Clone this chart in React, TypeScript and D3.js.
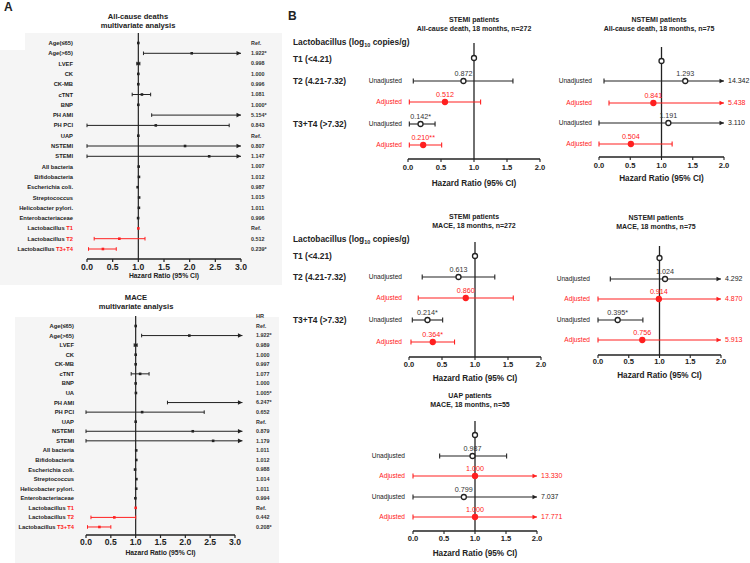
import * as d3 from "d3";

const FONT = "'Liberation Sans', Arial, Helvetica, sans-serif";
const RED = "#ff2020";
const INK = "#222";

// ---------- Panel A: multivariate analysis ----------
const deathLabels = [
  "Age(≤65)", "Age(>65)", "LVEF", "CK", "CK-MB", "cTNT", "BNP", "PH AMI", "PH PCI", "UAP",
  "NSTEMI", "STEMI", "All bacteria", "Bifidobacteria", "Escherichia coli.", "Streptococcus",
  "Helicobacter pylori.", "Enterobacteriaceae", "Lactobacillus T1", "Lactobacillus T2", "Lactobacillus T3+T4",
];
const deathHR = [
  "Ref.", "1.922*", "0.998", "1.000", "0.996", "1.081", "1.000*", "5.154*", "0.843", "Ref.",
  "0.807", "1.147", "1.007", "1.012", "0.987", "1.015", "1.011", "0.996", "Ref.", "0.512", "0.239*",
];
// plotted estimate / CI (values past 3.0 are drawn as arrows)
const deathPoint = [1, 2.04, 1, 1, 1, 1.07, 1, null, 1.34, 1, 1.91, 2.38, 1.007, 1.012, 0.987, 1.015, 1.011, 0.996, 1, 0.63, 0.31];
const deathLow = [null, 1.1, 0.97, null, null, 0.88, null, 1.26, 0.0, null, 0.0, 0.0, null, null, null, null, null, null, null, 0.14, 0.03];
const deathHigh = [null, 3.5, 1.03, null, null, 1.24, null, 3.5, 2.77, null, 3.5, 3.5, null, null, null, null, null, null, null, 1.13, 0.57];

const maceLabels = [
  "Age(≤65)", "Age(>65)", "LVEF", "CK", "CK-MB", "cTNT", "BNP", "UA", "PH AMI", "PH PCI", "UAP",
  "NSTEMI", "STEMI", "All bacteria", "Bifidobacteria", "Escherichia coli.", "Streptococcus",
  "Helicobacter pylori.", "Enterobacteriaceae", "Lactobacillus T1", "Lactobacillus T2", "Lactobacillus T3+T4",
];
const maceHR = [
  "Ref.", "1.922*", "0.989", "1.000", "0.997", "1.077", "1.000", "1.005*", "6.247*", "0.652", "Ref.",
  "0.879", "1.179", "1.011", "1.012", "0.988", "1.014", "1.011", "0.994", "Ref.", "0.442", "0.208*",
];
const macePoint = [1, 2.08, 1, 1, 1, 1.09, 1, 1.005, null, 1.13, 1, 2.15, 2.56, 1.011, 1.012, 0.988, 1.014, 1.011, 0.994, 1, 0.57, 0.27];
const maceLow = [null, 1.12, 0.97, null, null, 0.91, null, null, 1.64, 0.0, null, 0.0, 0.0, null, null, null, null, null, null, null, 0.1, 0.03];
const maceHigh = [null, 3.5, 1.03, null, null, 1.27, null, null, 3.5, 2.38, null, 3.5, 3.5, null, null, null, null, null, null, null, 1.0, 0.5];

const aTicks = [0, 0.5, 1, 1.5, 2, 2.5, 3];

// ---------- Panel B: Lactobacillus tertiles ----------
const bRowNames = ["T1", "Unadjusted", "Adjusted", "Unadjusted", "Adjusted"];
const bTicks = [0, 0.5, 1, 1.5, 2];

const stemiDeathPoint = [1, 0.84, 0.56, 0.19, 0.23];
const stemiDeathLow = [null, 0.08, 0.02, 0.02, 0.02];
const stemiDeathHigh = [null, 1.59, 1.1, 0.41, 0.51];
const stemiDeathText = ["", "0.872", "0.512", "0.142*", "0.210**"];

const nstemiDeathPoint = [1, 1.38, 0.87, 1.11, 0.51];
const nstemiDeathLow = [null, 0.08, 0.16, 0.0, 0.0];
const nstemiDeathHigh = [null, 14.342, 5.438, 3.11, 1.17];
const nstemiDeathText = ["", "1.293", "0.841", "1.191", "0.504"];

const stemiMacePoint = [1, 0.75, 0.86, 0.28, 0.36];
const stemiMaceLow = [null, 0.2, 0.14, 0.05, 0.03];
const stemiMaceHigh = [null, 1.3, 1.58, 0.51, 0.69];
const stemiMaceText = ["", "0.613", "0.860", "0.214*", "0.364*"];

const nstemiMacePoint = [1, 1.09, 0.99, 0.32, 0.72];
const nstemiMaceLow = [null, 0.2, 0.0, 0.0, 0.0];
const nstemiMaceHigh = [null, 4.292, 4.87, 0.73, 5.913];
const nstemiMaceText = ["", "1.024", "0.914", "0.395*", "0.756"];

const uapMacePoint = [1, 0.96, 1.0, 0.82, 1.0];
const uapMaceLow = [null, 0.43, 0.0, 0.0, 0.0];
const uapMaceHigh = [null, 1.51, 13.33, 7.037, 17.771];
const uapMaceText = ["", "0.987", "1.000", "0.799", "1.000"];

function Arrow({ x, y, color }: { x: number; y: number; color: string }) {
  return <path d={`M${x},${y}L${x - 4.5},${y - 2.3}L${x - 4.5},${y + 2.3}Z`} fill={color} />;
}

function ForestA(p: any) {
  const x = d3.scaleLinear().domain([0, 3]).range(p.range);
  const n = p.labels.length;
  return (
    <g fontFamily={FONT}>
      <text x={p.titleX} y={p.titleY} textAnchor="middle" fontSize={7.6} fontWeight={600} fill={INK}>{p.title}</text>
      <text x={p.titleX} y={p.titleY + 9} textAnchor="middle" fontSize={7.6} fontWeight={600} fill={INK}>multivariate analysis</text>
      {p.header && (
        <text x={p.hrX} y={p.y0 - p.step} dy="0.35em" fontSize={5.6} fontWeight={700} fill="#333">{p.header}</text>
      )}
      <line x1={x(1)} x2={x(1)} y1={p.vTop} y2={p.axisY} stroke={INK} strokeWidth={1.2} />
      {p.labels.map((lab: string, i: number) => {
        const y = p.y0 + i * p.step;
        const color = i >= n - 3 ? RED : INK;
        const lo = p.low[i];
        const hi = p.high[i];
        const pt = p.point[i];
        const isLacto = lab.startsWith("Lactobacillus ");
        const over = hi != null && hi > 3;
        const end = over ? x(p.arrowAt) : hi != null ? x(hi) : 0;
        return (
          <g key={i}>
            {lo != null && (
              <g stroke={color} strokeWidth={1}>
                <line x1={x(lo)} x2={end} y1={y} y2={y} />
                <line x1={x(lo)} x2={x(lo)} y1={y - 1.8} y2={y + 1.8} />
                {!over && <line x1={end} x2={end} y1={y - 1.8} y2={y + 1.8} />}
              </g>
            )}
            {over && <Arrow x={end} y={y} color={color} />}
            {pt != null && <rect x={x(pt) - 1.3} y={y - 1.3} width={2.6} height={2.6} fill={color} />}
            <text x={p.labelX} y={y} dy="0.35em" textAnchor="end" fontSize={5.8} fontWeight={700} fill={INK}>
              {isLacto ? (
                <>
                  Lactobacillus <tspan fill={RED}>{lab.slice(14)}</tspan>
                </>
              ) : (
                lab
              )}
            </text>
            <text x={p.hrX} y={y} dy="0.35em" fontSize={5.4} fontWeight={700} fill="#333">{p.hr[i]}</text>
          </g>
        );
      })}
      <line x1={x(0)} x2={x(3)} y1={p.axisY} y2={p.axisY} stroke={INK} strokeWidth={1.4} />
      {aTicks.map((t) => (
        <g key={t}>
          <line x1={x(t)} x2={x(t)} y1={p.axisY} y2={p.axisY + 3} stroke={INK} strokeWidth={1.2} />
          <text x={x(t)} y={p.tickY} dy="0.35em" textAnchor="middle" fontSize={8.6} fontWeight={700} fill={INK}>
            {t.toFixed(1)}
          </text>
        </g>
      ))}
      <text x={x(1.5)} y={p.axTitleY} dy="0.35em" textAnchor="middle" fontSize={6.8} fontWeight={700} fill={INK}>
        Hazard Ratio (95% CI)
      </text>
    </g>
  );
}

function ForestB(p: any) {
  const x = d3.scaleLinear().domain([0, 2]).range([p.x0, p.x2]);
  return (
    <g fontFamily={FONT}>
      <text x={p.titleX} y={p.titleY} dy="0.35em" textAnchor="middle" fontSize={7} fontWeight={600} fill={INK}>{p.title1}</text>
      <text x={p.titleX} y={p.titleY + 9} dy="0.35em" textAnchor="middle" fontSize={7} fontWeight={600} fill={INK}>{p.title2}</text>
      <line x1={x(1)} x2={x(1)} y1={p.vTop} y2={p.axisY} stroke={INK} strokeWidth={1.3} />
      {bRowNames.map((name, i) => {
        const y = p.rows[i];
        const adj = name === "Adjusted";
        const color = adj ? RED : INK;
        const lo = p.low[i];
        const hi = p.high[i];
        const pt = p.point[i];
        const over = hi != null && hi > 2;
        const end = over ? x(2) : hi != null ? x(hi) : 0;
        return (
          <g key={i}>
            {i > 0 && (
              <text x={p.labelRight} y={y} dy="0.35em" textAnchor="end" fontSize={6.6} fill={color}>{name}</text>
            )}
            {lo != null && (
              <g stroke={color} strokeWidth={1.1}>
                <line x1={x(lo)} x2={end} y1={y} y2={y} />
                <line x1={x(lo)} x2={x(lo)} y1={y - 2.5} y2={y + 2.5} />
                {!over && <line x1={end} x2={end} y1={y - 2.5} y2={y + 2.5} />}
              </g>
            )}
            {over && (
              <>
                <Arrow x={end} y={y} color={color} />
                <text x={end + 4} y={y} dy="0.35em" fontSize={7} fill={color}>{hi.toFixed(3)}</text>
              </>
            )}
            <circle
              cx={x(pt)}
              cy={y}
              r={2.5}
              fill={adj ? RED : "#fff"}
              stroke={color}
              strokeWidth={1.3}
            />
            {p.text[i] && (
              <text x={x(pt)} y={y - 8} dy="0.35em" textAnchor="middle" fontSize={7.2} fill={adj ? RED : "#333"}>
                {p.text[i]}
              </text>
            )}
          </g>
        );
      })}
      <line x1={x(0)} x2={x(2)} y1={p.axisY} y2={p.axisY} stroke={INK} strokeWidth={1.3} />
      {bTicks.map((t) => (
        <g key={t}>
          <line x1={x(t)} x2={x(t)} y1={p.axisY} y2={p.axisY + 3} stroke={INK} strokeWidth={1.1} />
          <text x={x(t)} y={p.tickY} dy="0.35em" textAnchor="middle" fontSize={7.6} fontWeight={700} fill={INK}>
            {t.toFixed(1)}
          </text>
        </g>
      ))}
      <text x={x(1)} y={p.axTitleY} dy="0.35em" textAnchor="middle" fontSize={8.2} fontWeight={700} fill={INK}>
        Hazard Ratio (95% CI)
      </text>
    </g>
  );
}

function TertileLabels({ x, header, t1, t2, t3 }: any) {
  return (
    <g fontFamily={FONT} fontSize={8.4} fill={INK} fontWeight={600}>
      <text x={x} y={header} dy="0.35em">
        Lactobacillus (log<tspan fontSize={5.5} dy="2">10</tspan><tspan dy="-2"> copies/g)</tspan>
      </text>
      <text x={x} y={t1} dy="0.35em">T1 (&lt;4.21)</text>
      <text x={x} y={t2} dy="0.35em">T2 (4.21-7.32)</text>
      <text x={x} y={t3} dy="0.35em">T3+T4  (&gt;7.32)</text>
    </g>
  );
}

export default function App() {
  return (
    <svg
      width={750}
      height={563}
      style={{ position: "absolute", left: 0, top: 0, background: "#fff" }}
    >
      <rect x={0} y={33} width={282} height={252} fill="#f5f5f5" />
      <rect x={0} y={33} width={25} height={17} fill="#fff" />
      <rect x={15} y={317} width={264} height={246} fill="#f5f5f5" />

      <text x={4} y={11} fontFamily={FONT} fontSize={12} fontWeight={700} fill={INK}>A</text>
      <text x={288} y={20} fontFamily={FONT} fontSize={12} fontWeight={700} fill={INK}>B</text>

      <ForestA
        title="All-cause  deaths"
        labels={deathLabels}
        hr={deathHR}
        point={deathPoint}
        low={deathLow}
        high={deathHigh}
        range={[87, 241]}
        y0={43}
        step={10.3}
        axisY={259}
        vTop={33}
        labelX={73}
        hrX={251}
        titleX={138}
        titleY={19}
        arrowAt={3.0}
        tickY={267}
        axTitleY={276}
      />
      <ForestA
        title="MACE"
        header="HR"
        labels={maceLabels}
        hr={maceHR}
        point={macePoint}
        low={maceLow}
        high={maceHigh}
        range={[86, 235]}
        y0={326}
        step={9.57}
        axisY={535}
        vTop={316}
        labelX={74}
        hrX={256}
        titleX={136}
        titleY={300}
        arrowAt={3.15}
        tickY={542}
        axTitleY={553}
      />

      <TertileLabels x={293} header={42} t1={59} t2={81} t3={124} />
      <TertileLabels x={293} header={239} t1={256} t2={277} t3={320} />

      <ForestB
        title1="STEMI  patients"
        title2="All-cause  death, 18 months, n=272"
        titleX={474}
        titleY={20}
        x0={408}
        x2={540}
        rows={[58, 81, 102, 124, 145]}
        axisY={159}
        vTop={43}
        labelRight={402}
        tickY={167}
        axTitleY={183}
        point={stemiDeathPoint}
        low={stemiDeathLow}
        high={stemiDeathHigh}
        text={stemiDeathText}
      />
      <ForestB
        title1="NSTEMI  patients"
        title2="All-cause  death, 18 months, n=75"
        titleX={659}
        titleY={20}
        x0={599}
        x2={724}
        rows={[61, 81, 103, 123, 144]}
        axisY={157}
        vTop={47}
        labelRight={592}
        tickY={165}
        axTitleY={178}
        point={nstemiDeathPoint}
        low={nstemiDeathLow}
        high={nstemiDeathHigh}
        text={nstemiDeathText}
      />
      <ForestB
        title1="STEMI  patients"
        title2="MACE,  18 months, n=272"
        titleX={474}
        titleY={217}
        x0={409}
        x2={541}
        rows={[256, 277, 298, 320, 342]}
        axisY={357}
        vTop={242}
        labelRight={402}
        tickY={364}
        axTitleY={378}
        point={stemiMacePoint}
        low={stemiMaceLow}
        high={stemiMaceHigh}
        text={stemiMaceText}
      />
      <ForestB
        title1="NSTEMI  patients"
        title2="MACE,  18 months, n=75"
        titleX={656}
        titleY={218}
        x0={598}
        x2={721}
        rows={[258, 279, 299, 320, 340]}
        axisY={355}
        vTop={246}
        labelRight={590}
        tickY={361}
        axTitleY={375}
        point={nstemiMacePoint}
        low={nstemiMaceLow}
        high={nstemiMaceHigh}
        text={nstemiMaceText}
      />
      <ForestB
        title1="UAP  patients"
        title2="MACE,  18 months, n=55"
        titleX={470}
        titleY={396}
        x0={413}
        x2={537}
        rows={[435, 456, 476, 497, 517]}
        axisY={531}
        vTop={421}
        labelRight={405}
        tickY={538}
        axTitleY={553}
        point={uapMacePoint}
        low={uapMaceLow}
        high={uapMaceHigh}
        text={uapMaceText}
      />
    </svg>
  );
}
